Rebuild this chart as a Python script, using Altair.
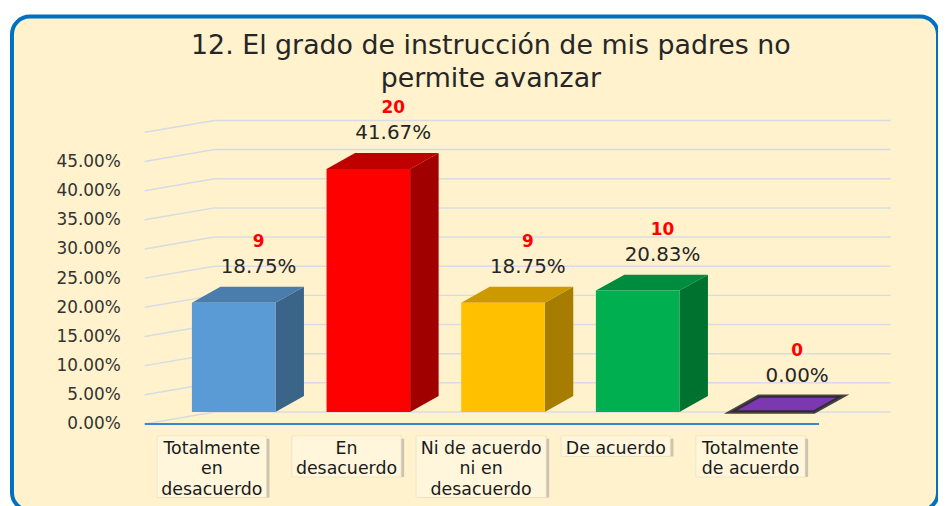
import altair as alt
import pandas as pd

# ---------------- data ----------------
categories = [
    "Totalmente en desacuerdo",
    "En desacuerdo",
    "Ni de acuerdo ni en desacuerdo",
    "De acuerdo",
    "Totalmente de acuerdo",
]
label_lines = [
    ["Totalmente", "en", "desacuerdo"],
    ["En", "desacuerdo"],
    ["Ni de acuerdo", "ni en", "desacuerdo"],
    ["De acuerdo"],
    ["Totalmente", "de acuerdo"],
]
counts = [9, 20, 9, 10, 0]
percents = [0.1875, 0.4167, 0.1875, 0.2083, 0.0]
front_colors = ["#5B9BD5", "#FF0000", "#FFC000", "#00B050", "#7030A0"]
side_colors = ["#3B6489", "#A00000", "#A67D00", "#00722F", "#4B1F6B"]
top_colors = ["#4A7DAC", "#C00000", "#CC9A00", "#008C3E", "#7B38B0"]
y_ticks = [0.0, 0.05, 0.10, 0.15, 0.20, 0.25, 0.30, 0.35, 0.40, 0.45]
grid_values = [0.0, 0.05, 0.10, 0.15, 0.20, 0.25, 0.30, 0.35, 0.40, 0.45, 0.50]
title_lines = ["12. El grado de instrucción de mis padres no", "permite avanzar"]

# ---------------- layout (pixels on the page) ----------------
VIEW_LEFT, VIEW_TOP = 12, 15
VIEW_W, VIEW_H = 932, 497
STEP = 137            # px between category centres
FIRST_CENTER = 232.5  # page x of first bar centre
PX_PER_UNIT = 587     # px per 100 %
ZERO_Y = 413          # page y of bar base
BAR_HALF = 42.5
DEPTH_X, DEPTH_Y = 29, 16
WALL_FRONT_X, WALL_BACK_X, WALL_RIGHT_X, FLOOR_RIGHT_X = 142, 213, 901, 828
WALL_DROP = 12
BOX_TOP_Y, LINE_PX, LABEL_SHIFT = 437, 20.7, -22

x_dom = [(VIEW_LEFT - FIRST_CENTER) / STEP, (VIEW_LEFT + VIEW_W - FIRST_CENTER) / STEP]
y_dom = [(ZERO_Y - (VIEW_TOP + VIEW_H)) / PX_PER_UNIT, (ZERO_Y - VIEW_TOP) / PX_PER_UNIT]


def ux(px):
    return (px - FIRST_CENTER) / STEP


hw = BAR_HALF / STEP
ddx = DEPTH_X / STEP
ddy = DEPTH_Y / PX_PER_UNIT
drop = WALL_DROP / PX_PER_UNIT

X_SC = alt.Scale(domain=x_dom, nice=False, zero=False)
Y_SC = alt.Scale(domain=y_dom, nice=False, zero=False)
Y_AX = alt.Axis(values=y_ticks, format=".2%", offset=-(WALL_FRONT_X - VIEW_LEFT),
                labelPadding=21, ticks=False, domain=False, grid=False,
                labelOffset=WALL_DROP, labelFontSize=17, labelFont="DejaVu Sans",
                labelColor="#333333", title=None)


def X(f):
    return alt.X(f, type="quantitative", scale=X_SC, axis=None)


def Y(f):
    return alt.Y(f, type="quantitative", scale=Y_SC, axis=Y_AX)


# ---------------- tables ----------------
bars = pd.DataFrame({
    "cat": categories, "i": list(range(len(categories))), "count": counts,
    "pct": percents, "front": front_colors,
})
bars["x0"] = bars["i"] - hw
bars["x1"] = bars["i"] + hw
bars["base"] = 0.0

side_rows, top_rows = [], []
for i, (c, p) in enumerate(zip(categories, percents)):
    for k in (0, 1):
        side_rows.append({"cat": c, "sx": i + hw + k * ddx, "sy0": k * ddy,
                          "sy1": p + k * ddy, "col": side_colors[i]})
        top_rows.append({"cat": c, "ty": p + k * ddy, "tx0": i - hw + k * ddx,
                         "tx1": i + hw + k * ddx, "col": top_colors[i],
                         "stk": "#262626" if counts[i] == 0 else top_colors[i],
                         "sw": 3.5 if counts[i] == 0 else 0.0})
sides = pd.DataFrame(side_rows)
tops = pd.DataFrame(top_rows)

grid = pd.DataFrame({"v": grid_values})
grid["gx0"] = ux(WALL_BACK_X)
grid["gx1"] = ux(WALL_RIGHT_X)
grid["fx"] = ux(WALL_FRONT_X)
grid["vf"] = grid["v"] - drop

floor = pd.DataFrame({"fx": [ux(WALL_FRONT_X)], "fx1": [ux(FLOOR_RIGHT_X)], "v": [-drop]})

box_top = (ZERO_Y - BOX_TOP_Y) / PX_PER_UNIT
boxes = pd.DataFrame({
    "cat": categories, "i": list(range(len(categories))),
    "txt": ["\n".join(l) for l in label_lines],
    "w": [7 * max(len(s) for s in l) + 40 for l in label_lines],
    "yt": [box_top] * len(categories),
    "yb": [box_top - len(l) * LINE_PX / PX_PER_UNIT for l in label_lines],
})

# ---------------- layers ----------------
grid_back = alt.Chart(grid).mark_rule(color="#D6DCE5", strokeWidth=1.5).encode(
    x=X("gx0"), x2="gx1", y=Y("v"))
grid_side = alt.Chart(grid).mark_rule(color="#D6DCE5", strokeWidth=1.5).encode(
    x=X("fx"), y=Y("vf"), x2="gx0", y2="v")
floor_line = alt.Chart(floor).mark_rule(color="#3A87D0", strokeWidth=2).encode(
    x=X("fx"), x2="fx1", y=Y("v"))

side_faces = alt.Chart(sides).mark_area(orient="vertical", opacity=1).encode(
    x=X("sx"), y=Y("sy0"), y2="sy1", detail="cat:N",
    color=alt.Color("col:N", scale=None))
top_faces = alt.Chart(tops).mark_area(orient="horizontal", opacity=1, strokeOpacity=0.85).encode(
    y=Y("ty"), x=X("tx0"), x2="tx1", detail="cat:N",
    color=alt.Color("col:N", scale=None),
    stroke=alt.Stroke("stk:N", scale=None),
    strokeWidth=alt.StrokeWidth("sw:Q", scale=None))
front_faces = alt.Chart(bars).mark_rect().encode(
    x=X("x0"), x2="x1", y=Y("base"), y2="pct",
    color=alt.Color("front:N", scale=None))

pct_labels = alt.Chart(bars).mark_text(
    dx=25, dy=-36, fontSize=20, font="DejaVu Sans", color="#262626").encode(
    x=X("i"), y=Y("pct"), text=alt.Text("pct:Q", format=".2%"))
count_labels = alt.Chart(bars).mark_text(
    dx=25, dy=-61, fontSize=17, font="DejaVu Sans", fontWeight="bold", color="#FF0000").encode(
    x=X("i"), y=Y("pct"), text=alt.Text("count:Q"))

box_shadow = alt.Chart(boxes).mark_bar(
    color="#8C8C8C", opacity=0.45, xOffset=LABEL_SHIFT + 3, yOffset=3).encode(
    x=X("i"), y=Y("yt"), y2="yb", size=alt.Size("w:Q", scale=None))
box_face = alt.Chart(boxes).mark_bar(
    color="#FFF6DC", stroke="#E6DCC0", strokeWidth=0.6, xOffset=LABEL_SHIFT).encode(
    x=X("i"), y=Y("yt"), y2="yb", size=alt.Size("w:Q", scale=None))
box_text = alt.Chart(boxes).mark_text(
    lineBreak="\n", baseline="top", align="center", dx=LABEL_SHIFT, dy=4,
    lineHeight=LINE_PX, fontSize=17.5, font="DejaVu Sans", color="#1A1A1A").encode(
    x=X("i"), y=Y("yt"), text="txt:N")

chart = alt.layer(
    grid_back, grid_side, floor_line,
    side_faces, top_faces, front_faces,
    pct_labels, count_labels,
    box_shadow, box_face, box_text,
).properties(
    width=VIEW_W, height=VIEW_H,
    autosize=alt.AutoSizeParams(type="none"),
    padding={"left": VIEW_LEFT - 8, "top": VIEW_TOP - 8, "right": 0, "bottom": 0},
    title=alt.TitleParams(text=title_lines, fontSize=27, font="DejaVu Sans",
                          fontWeight="normal", color="#262626", lineHeight=33,
                          offset=-77, frame="group", anchor="middle", dx=16),
).configure(background="#FFFFFF").configure_view(
    fill="#FFF2CC", stroke="#0070C0", strokeWidth=4, cornerRadius=18)

chart.save("out.html", embed_options={"renderer": "svg", "actions": False})
